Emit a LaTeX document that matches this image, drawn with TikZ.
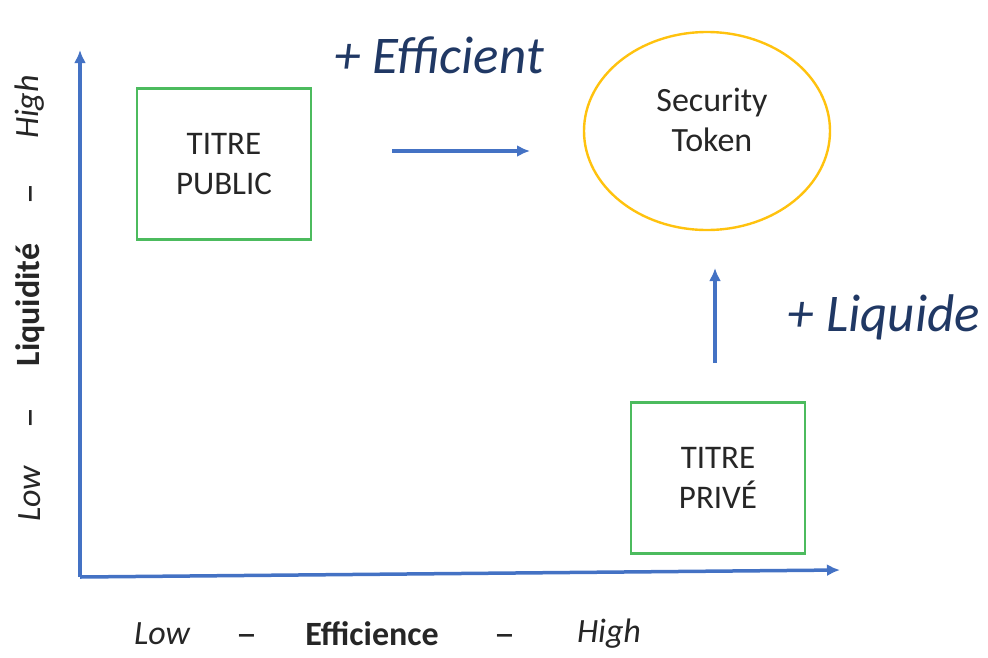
\documentclass[tikz,border=0pt]{standalone}
\usepackage{fontspec}
\setmainfont{Carlito}
\usetikzlibrary{arrows.meta,shapes.geometric}

\definecolor{axisblue}{HTML}{4472C4}
\definecolor{darknavy}{HTML}{203864}
\definecolor{boxgreen}{HTML}{4CBB5E}
\definecolor{ringgold}{HTML}{FFC20E}
\definecolor{inkgray}{HTML}{262626}

\begin{document}
\begin{tikzpicture}[x=1pt,y=-1pt]
\tikzstyle{block} = [rectangle, draw=boxgreen, line width=2.4pt,
minimum width=174pt, minimum height=151pt, align=center, text=inkgray,
font=\fontsize{33}{40}\selectfont]
\tikzstyle{token} = [ellipse, draw=ringgold, line width=2.4pt,
minimum width=246pt, minimum height=198pt]
\tikzstyle{axis} = [draw=axisblue, line width=3.5pt,
-{Latex[length=13pt,width=12pt]}]
\tikzstyle{line} = [draw=axisblue, line width=3.2pt,
-{Latex[length=13pt,width=12pt]}]
\tikzstyle{gain} = [text=darknavy, font=\fontsize{53}{60}\selectfont\itshape]
\tikzstyle{tick} = [text=inkgray, font=\fontsize{34}{40}\selectfont]
\tikzstyle{sepmark} = [text=inkgray, font=\fontsize{42}{48}\selectfont]

\useasboundingbox (0,0) rectangle (988,657);

% axes
\coordinate (origin) at (80,577);
\coordinate (ytop) at (80,50);
\coordinate (xend) at (840,570);
\draw[axis] (origin) -- (ytop);
\draw[axis] (origin) -- (xend);

% x labels
\node[tick] (xlow) at (162,634) {\itshape Low};
\node[sepmark] (xdash1) at (247,641) {–};
\node[tick] (xname) at (372,634) {\bfseries Efficience};
\node[sepmark] (xdash2) at (505,641) {–};
\node[tick] (xhigh) at (609,634) {\itshape High};

% y labels
\node[tick, rotate=90] (ylow) at (30,494) {\itshape Low};
\node[sepmark, rotate=90] (ydash1) at (36,418) {–};
\node[tick, rotate=90] (yname) at (30,305) {\bfseries Liquidité};
\node[sepmark, rotate=90] (ydash2) at (36,194) {–};
\node[tick, rotate=90] (yhigh) at (30,107) {\itshape High};

% boxes
\node[block] (public) at (224,164) {TITRE\\PUBLIC};
\node[block] (prive) at (718,478) {TITRE\\PRIVÉ};
\node[token, label={[tick, align=center, xshift=5pt, yshift=11pt]center:Security\\Token}] (token) at (707,131) {};

% moves
\coordinate (effstart) at (392,151);
\coordinate (effend) at (530,151);
\coordinate (liqstart) at (715,363);
\coordinate (liqend) at (715,268);
\path[line] (effstart) -- (effend);
\path[line] (liqstart) -- (liqend);
\node[gain] (efficient) at (439,55) {+ Efficient};
\node[gain] (liquide) at (884,317) {+ Liquide};

\end{tikzpicture}
\end{document}
